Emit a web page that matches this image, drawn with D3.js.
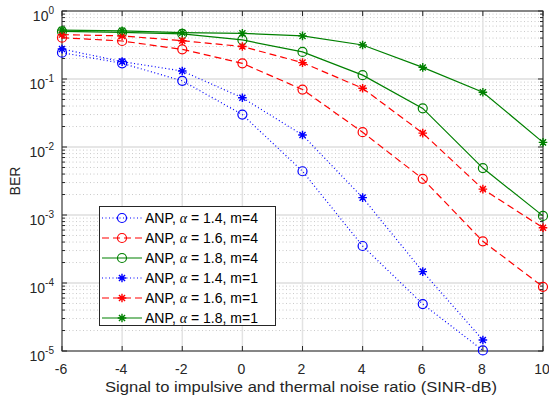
<!DOCTYPE html>
<html>
<head>
<meta charset="utf-8">
<style>
    body { margin: 0; background: #fff; }
    svg { font-family: 'Liberation Sans', Arial, sans-serif; }
</style>
</head>
<body>
<svg width="549" height="401"></svg>
<script src="https://d3js.org/d3.v7.min.js"></script>
<script>
    // SINR in dB
    const snr = [-6, -4, -2, 0, 2, 4, 6, 8, 10];

    // BER
    const berA14m4 = [0.244, 0.17, 0.094, 0.030, 0.0044, 3.5e-4, 4.9e-5, 1.02e-5];
    const berA16m4 = [0.405, 0.362, 0.273, 0.17, 0.07, 0.0165, 0.0034, 4.1e-4, 8.8e-5];
    const berA18m4 = [0.50, 0.485, 0.46, 0.375, 0.25, 0.114, 0.037, 0.0049, 9.7e-4];
    const berA14m1 = [0.276, 0.18, 0.131, 0.053, 0.015, 0.0018, 1.47e-4, 1.45e-5];
    const berA16m1 = [0.45, 0.43, 0.366, 0.30, 0.174, 0.073, 0.016, 0.0024, 6.5e-4];
    const berA18m1 = [0.525, 0.51, 0.48, 0.47, 0.43, 0.316, 0.148, 0.064, 0.0117];

    const alphas = ["1.4", "1.6", "1.8", "1.4", "1.6", "1.8"];
    const mVals = ["4", "4", "4", "1", "1", "1"];

    const xTicks = [-6, -4, -2, 0, 2, 4, 6, 8, 10];
    const yExps = [0, -1, -2, -3, -4, -5];

    const series = [
        { ber: berA14m4, color: "#0000ff", dash: "1,2.5", marker: "o" },
        { ber: berA16m4, color: "#ff0000", dash: "7,4", marker: "o" },
        { ber: berA18m4, color: "#008000", dash: null, marker: "o" },
        { ber: berA14m1, color: "#0000ff", dash: "1,2.5", marker: "*" },
        { ber: berA16m1, color: "#ff0000", dash: "7,4", marker: "*" },
        { ber: berA18m1, color: "#008000", dash: null, marker: "*" }
    ];

    const pLeft = 62, pRight = 543, pTop = 11, pBottom = 351;
    const axisCol = "#262626";

    const svg = d3.select("svg");

    const x = d3.scaleLinear().domain([-6, 10]).range([pLeft, pRight]);
    const y = d3.scaleLog().domain([1e-5, 1]).range([pBottom, pTop]);

    // minor y grid (dotted)
    let minor = [];
    for (let e = -5; e < 0; e++) {
        for (let k = 2; k <= 9; k++) minor.push(k * Math.pow(10, e));
    }
    svg.append("g").selectAll("line").data(minor).join("line")
        .attr("x1", pLeft).attr("x2", pRight)
        .attr("y1", d => y(d)).attr("y2", d => y(d))
        .style("stroke", "#bdbdbd")
        .style("stroke-width", 0.8)
        .style("stroke-dasharray", "1,2.5");

    // major grid
    svg.append("g").selectAll("line").data(yExps).join("line")
        .attr("x1", pLeft).attr("x2", pRight)
        .attr("y1", d => y(Math.pow(10, d))).attr("y2", d => y(Math.pow(10, d)))
        .style("stroke", "#dedede").style("stroke-width", 1.5);
    svg.append("g").selectAll("line").data(xTicks).join("line")
        .attr("x1", d => x(d)).attr("x2", d => x(d))
        .attr("y1", pTop).attr("y2", pBottom)
        .style("stroke", "#e3e3e3").style("stroke-width", 1.5);

    // axes box + ticks
    const ax = svg.append("g").style("stroke", axisCol).style("stroke-width", 1);
    ax.append("rect").attr("x", pLeft).attr("y", pTop)
        .attr("width", pRight - pLeft).attr("height", pBottom - pTop)
        .style("fill", "none");
    xTicks.forEach(t => {
        ax.append("line").attr("x1", x(t)).attr("x2", x(t)).attr("y1", pBottom).attr("y2", pBottom - 5);
        ax.append("line").attr("x1", x(t)).attr("x2", x(t)).attr("y1", pTop).attr("y2", pTop + 5);
    });
    yExps.forEach(e => {
        let yy = y(Math.pow(10, e));
        ax.append("line").attr("x1", pLeft).attr("x2", pLeft + 5).attr("y1", yy).attr("y2", yy);
        ax.append("line").attr("x1", pRight).attr("x2", pRight - 5).attr("y1", yy).attr("y2", yy);
    });
    minor.forEach(v => {
        let yy = y(v);
        ax.append("line").attr("x1", pLeft).attr("x2", pLeft + 3).attr("y1", yy).attr("y2", yy);
        ax.append("line").attr("x1", pRight).attr("x2", pRight - 3).attr("y1", yy).attr("y2", yy);
    });

    // tick labels
    svg.append("g").selectAll("text").data(xTicks).join("text")
        .attr("x", d => x(d) - 1).attr("y", 374)
        .attr("text-anchor", "middle")
        .style("font-size", "14px").style("fill", axisCol)
        .text(d => d);

    const yl = svg.append("g").selectAll("text").data(yExps).join("text")
        .attr("x", 54).attr("y", d => y(Math.pow(10, d)) + 10)
        .attr("text-anchor", "end")
        .style("font-size", "14px").style("fill", axisCol);
    yl.append("tspan").text("10");
    yl.append("tspan").attr("dy", -7).style("font-size", "10px").text(d => d);

    svg.append("text")
        .attr("x", 105).attr("y", 392)
        .attr("textLength", 392)
        .attr("lengthAdjust", "spacingAndGlyphs")
        .style("font-size", "14px").style("fill", axisCol)
        .text("Signal to impulsive and thermal noise ratio (SINR-dB)");

    svg.append("text")
        .attr("transform", "translate(20," + ((pTop + pBottom) / 2) + ") rotate(-90)")
        .attr("text-anchor", "middle")
        .style("font-size", "14px").style("fill", axisCol)
        .text("BER");

    // markers
    function drawMarker(g, type, cx, cy, color) {
        if (type === "o") {
            g.append("circle").attr("cx", cx).attr("cy", cy).attr("r", 4.5)
                .style("fill", "none").style("stroke", color).style("stroke-width", 1.2);
        } else {
            let r = 4.3, s = r * 0.707;
            let p = `M${cx - r},${cy}L${cx + r},${cy}M${cx},${cy - r}L${cx},${cy + r}` +
                `M${cx - s},${cy - s}L${cx + s},${cy + s}M${cx - s},${cy + s}L${cx + s},${cy - s}`;
            g.append("path").attr("d", p)
                .style("fill", "none").style("stroke", color).style("stroke-width", 1.4);
        }
    }

    const line = d3.line().x(d => x(d[0])).y(d => y(d[1]));

    series.forEach(s => {
        let pts = s.ber.map((v, i) => [snr[i], v]);
        let g = svg.append("g");
        g.append("path").datum(pts).attr("d", line)
            .style("fill", "none").style("stroke", s.color)
            .style("stroke-width", 1.2)
            .style("stroke-dasharray", s.dash);
        pts.forEach(p => drawMarker(g, s.marker, x(p[0]), y(p[1]), s.color));
    });

    // legend
    const lg = svg.append("g");
    lg.append("rect").attr("x", 99.5).attr("y", 206.5).attr("width", 176).attr("height", 119)
        .style("fill", "#fff").style("stroke", axisCol).style("stroke-width", 1);
    series.forEach((s, i) => {
        let ly = 218 + i * 20;
        lg.append("line").attr("x1", 102).attr("x2", 142).attr("y1", ly).attr("y2", ly)
            .style("stroke", s.color).style("stroke-width", 1.2)
            .style("stroke-dasharray", s.dash);
        drawMarker(lg, s.marker, 122, ly, s.color);
        let t = lg.append("text").attr("x", 145).attr("y", ly + 5)
            .style("font-size", "14px").style("fill", "#000");
        t.append("tspan").text("ANP, ");
        t.append("tspan").style("font-family", "'Liberation Serif', 'Times New Roman', serif")
            .style("font-style", "italic").text("\u03b1");
        t.append("tspan").text(" = " + alphas[i] + ", m=" + mVals[i]);
    });
</script>
</body>
</html>
